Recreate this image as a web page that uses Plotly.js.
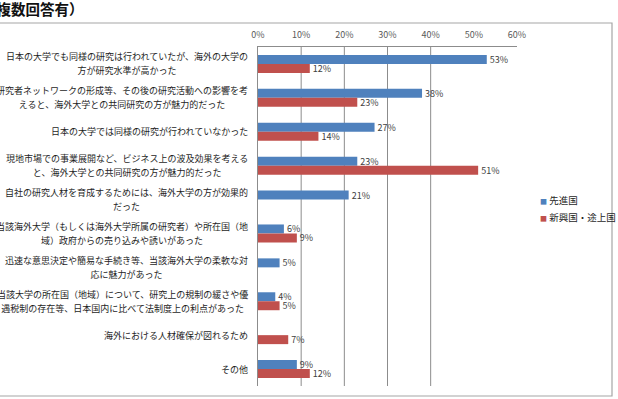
<!DOCTYPE html>
<html>
<head>
<meta charset="utf-8">
<script src="https://cdn.plot.ly/plotly-3.0.1.min.js"></script>
<style>
  html, body { margin: 0; padding: 0; background: #ffffff; }
  #chart { width: 618px; height: 399px; }
</style>
</head>
<body>
<div id="chart"></div>
<script>
// Reasons for choosing an overseas university (multiple answers allowed)
const categoryLabels = [
  "日本の大学でも同様の研究は行われていたが、海外の大学の<br>方が研究水準が高かった",
  "研究者ネットワークの形成等、その後の研究活動への影響を考<br>えると、海外大学との共同研究の方が魅力的だった",
  "日本の大学では同様の研究が行われていなかった",
  "現地市場での事業展開など、ビジネス上の波及効果を考える<br>と、海外大学との共同研究の方が魅力的だった",
  "自社の研究人材を育成するためには、海外大学の方が効果的<br>だった",
  "当該海外大学（もしくは海外大学所属の研究者）や所在国（地<br>域）政府からの売り込みや誘いがあった",
  "迅速な意思決定や簡易な手続き等、当該海外大学の柔軟な対<br>応に魅力があった",
  "当該大学の所在国（地域）について、研究上の規制の緩さや優<br>遇税制の存在等、日本国内に比べて法制度上の利点があった",
  "海外における人材確保が図れるため",
  "その他"
];
const seriesNames = ["先進国", "新興国・途上国"];
const developedValues = [53, 38, 27, 23, 21, 6, 5, 4, null, 9];
const emergingValues  = [12, 23, 14, 51, null, 9, null, 5, 7, 12];
const seriesColors = ["#4F81BD", "#C0504D"];
const gridValues = [10, 20, 30, 40];
const xTickValues = [0, 10, 20, 30, 40, 50, 60];
const titleText = "（複数回答有）";

const FONT = '"Noto Sans CJK JP", "Noto Sans", sans-serif';
const categoryKeys = categoryLabels.map(s => s.replace(/<br>/g, ""));

function barTrace(values, name, color) {
  return {
    type: "bar",
    orientation: "h",
    name: name,
    x: values,
    y: categoryKeys,
    marker: { color: color },
    texttemplate: "%{x}%",
    textposition: "outside",
    constraintext: "none",
    cliponaxis: false,
    textfont: { family: FONT, size: 9, color: "#404040" },
    hoverinfo: "skip"
  };
}

const traces = [
  barTrace(developedValues, seriesNames[0], seriesColors[0]),
  barTrace(emergingValues, seriesNames[1], seriesColors[1])
];

// Category labels: lines centred within each label block, right-aligned to the axis
const annotations = categoryLabels.map((label, i) => ({
  xref: "paper", yref: "y",
  x: -0.031, y: i,
  xanchor: "right", yanchor: "middle",
  align: "center",
  showarrow: false,
  font: { family: FONT, size: 11, color: "#1e1e1e" },
  text: label.split("<br>").map(l => '<span style="font-size:9px">' + l + '</span>').join("<br>")
}));

// Legend built from the series names and colours
seriesNames.forEach((name, k) => {
  annotations.push({
    xref: "paper", yref: "paper",
    x: 1.083, y: 0.548 - k * 0.05,
    xanchor: "left", yanchor: "middle",
    showarrow: false,
    font: { family: FONT, size: 9.5, color: "#1e1e1e" },
    text: '<span style="color:' + seriesColors[k] + ';font-size:7px">■</span> ' + name
  });
});

// Heading
annotations.push({
  xref: "paper", yref: "paper",
  x: -1.075, y: 1.115,
  xanchor: "left", yanchor: "middle",
  showarrow: false,
  font: { family: FONT, size: 14.5, color: "#111111", weight: "bold" },
  text: "<b>" + titleText + "</b>"
});

const shapes = gridValues.map(v => ({
  type: "line", layer: "below",
  xref: "x", yref: "paper",
  x0: v, x1: v, y0: 0, y1: 1,
  line: { color: "#8c8c8c", width: 1 }
}));

// Chart-area frame
shapes.push({
  type: "rect", xref: "paper", yref: "paper",
  x0: -1.05, x1: 1.3668, y0: -0.0295, y1: 1.0708,
  line: { color: "#a6a6a6", width: 1.2 },
  fillcolor: "rgba(0,0,0,0)"
});

const layout = {
  width: 618,
  height: 399,
  margin: { l: 258, r: 101, t: 47, b: 13 },
  paper_bgcolor: "#ffffff",
  plot_bgcolor: "#ffffff",
  font: { family: FONT, size: 9, color: "#404040" },
  barmode: "group",
  bargap: 0.47,
  bargroupgap: 0,
  showlegend: false,
  xaxis: {
    side: "top",
    range: [0, 60],
    tickvals: xTickValues,
    ticktext: xTickValues.map(v => v + "%"),
    showgrid: false,
    zeroline: false,
    showline: true,
    linecolor: "#8c8c8c",
    linewidth: 1,
    ticks: "outside",
    ticklen: 4,
    tickcolor: "rgba(0,0,0,0)",
    tickfont: { family: FONT, size: 9, color: "#595959" },
    fixedrange: true
  },
  yaxis: {
    type: "category",
    autorange: "reversed",
    showticklabels: false,
    showgrid: false,
    zeroline: false,
    showline: true,
    linecolor: "#8c8c8c",
    linewidth: 1,
    ticks: "",
    fixedrange: true
  },
  annotations: annotations,
  shapes: shapes
};

Plotly.newPlot("chart", traces, layout, { staticPlot: true, displayModeBar: false });
</script>
</body>
</html>
